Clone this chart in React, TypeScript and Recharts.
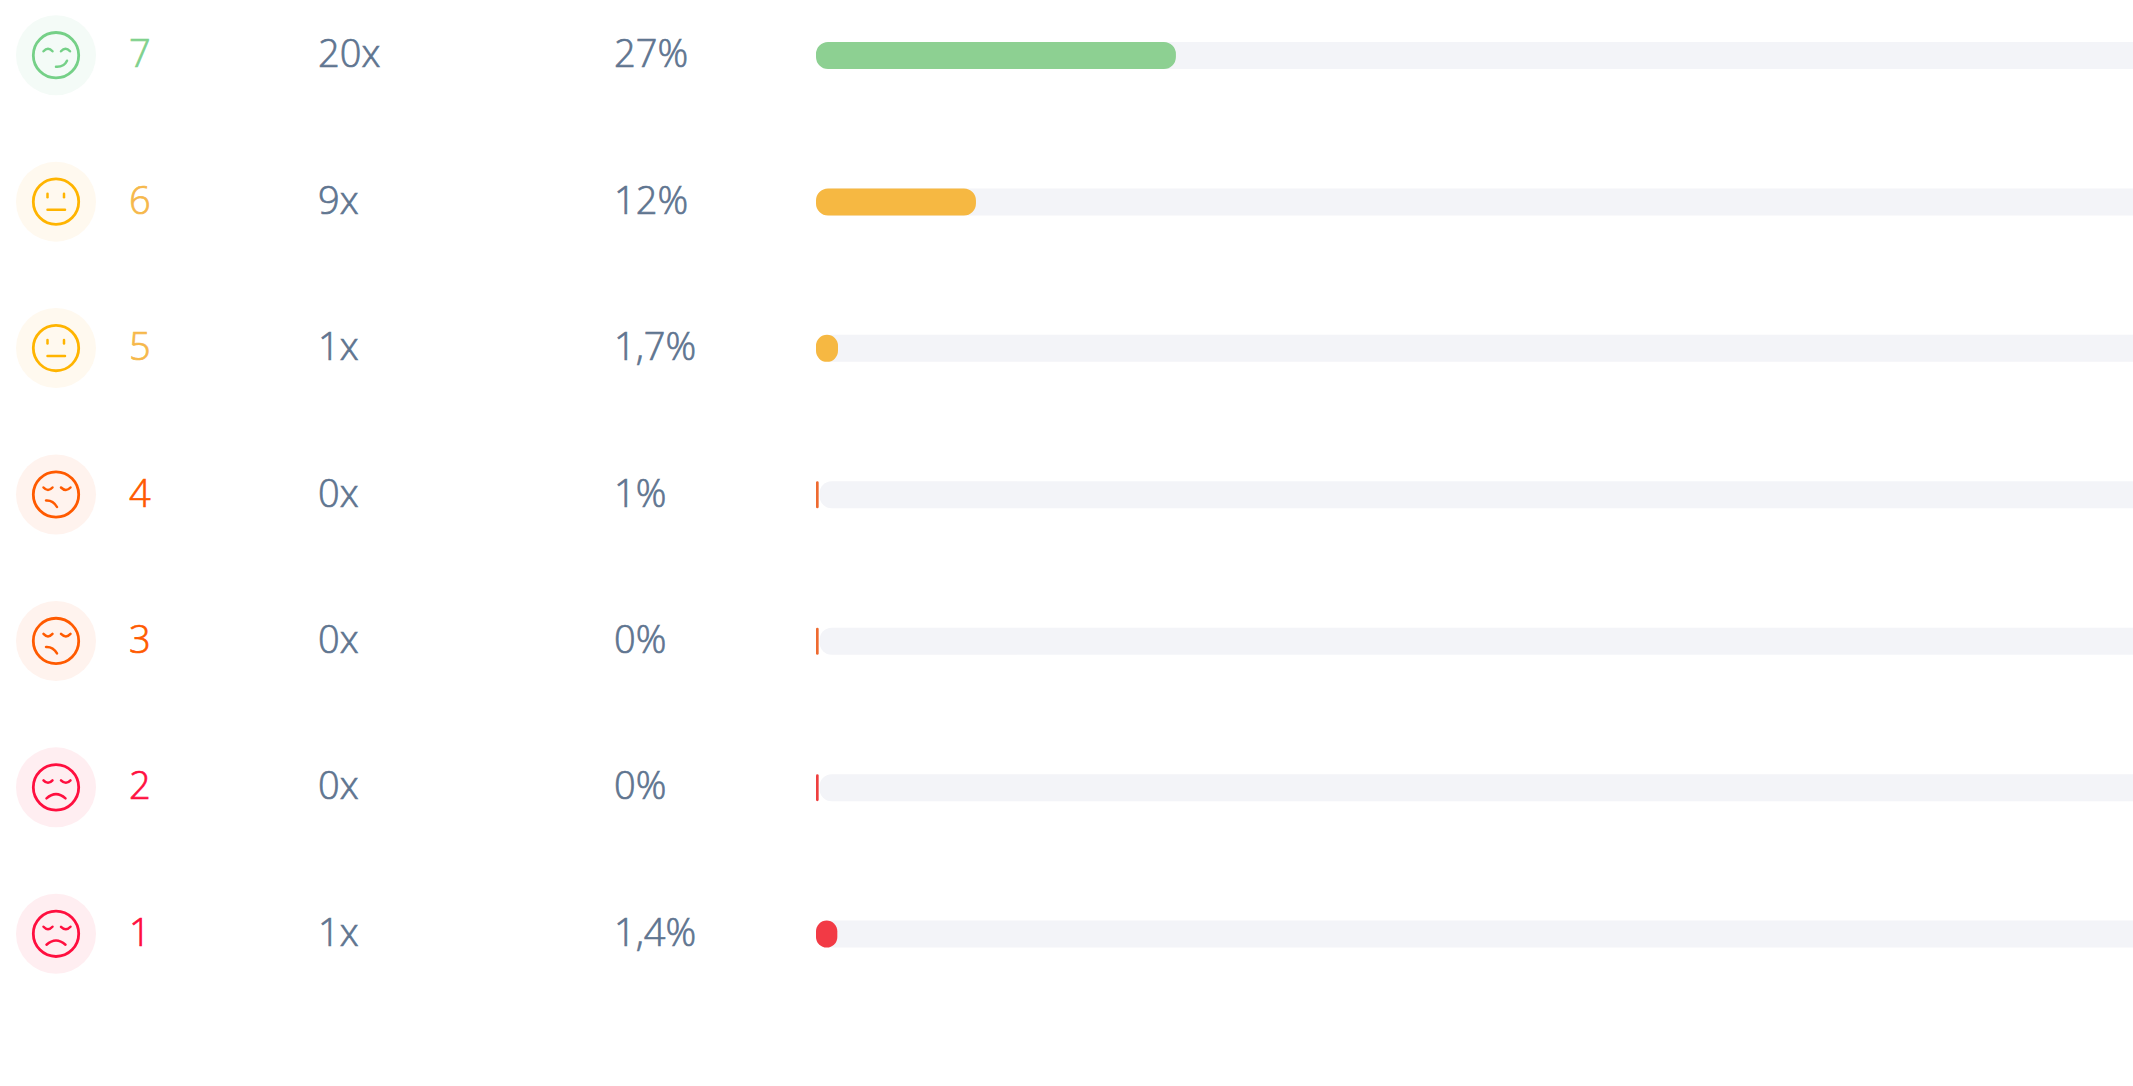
import React from "react";
import { BarChart, Bar, XAxis, YAxis, Cell } from "recharts";

const ratings = ["7", "6", "5", "4", "3", "2", "1"];
const counts = ["20x", "9x", "1x", "0x", "0x", "0x", "1x"];
const percents = ["27%", "12%", "1,7%", "1%", "0%", "0%", "1,4%"];
const barValues = [27, 12, 1.65, 0.2, 0.2, 0.2, 1.6];
const trackRange: [number, number] = [0.27, 100];
const barColors = ["#8dd092", "#f6b842", "#f6b842", "#ee6a30", "#ee6a30", "#ee3f3f", "#f23a45"];
const ratingColors = ["#80d18d", "#f6b84a", "#f6b84a", "#ff5a00", "#ff5a00", "#ff0f3f", "#ff0f3f"];
const faceColors = ["#75d087", "#ffb400", "#ffb400", "#ff5a00", "#ff5a00", "#ff0f3f", "#ff0f3f"];
const haloColors = ["#f4fbf7", "#fff9ef", "#fff9ef", "#fff3ee", "#fff3ee", "#ffeef1", "#ffeef1"];
const faceKinds = ["happy", "neutral", "neutral", "sad", "sad", "frown", "frown"];

const rows = ratings.map((rating, i) => ({
  rating,
  value: barValues[i],
  track: trackRange,
}));

const FONT = "'Open Sans', sans-serif";
const TEXT = "#5f7590";

function Face({ kind, color }: { kind: string; color: string }) {
  const s = { fill: "none", stroke: color, strokeWidth: 2.5, strokeLinecap: "round" as const };
  return (
    <g>
      <circle r={22.7} {...s} strokeWidth={2.8} />
      {kind === "happy" && (
        <>
          <path d="M-12.5 -4 Q-8 -9 -3.5 -4" {...s} />
          <path d="M5 -4 Q9.5 -9 14 -4" {...s} />
          <path d="M0 11.5 Q8 12 11 5.5" {...s} />
        </>
      )}
      {kind === "neutral" && (
        <>
          <path d="M-8.5 -8 V-4.5" {...s} />
          <path d="M8 -8 V-4.5" {...s} />
          <path d="M-8.5 8 H9" {...s} />
        </>
      )}
      {(kind === "sad" || kind === "frown") && (
        <>
          <path d="M-12.5 -7 Q-8 -2 -3.5 -7" {...s} />
          <path d="M5 -7 Q10 -2 14.5 -7" {...s} />
        </>
      )}
      {kind === "sad" && <path d="M-10 6 Q-3 5.5 1 12.5" {...s} />}
      {kind === "frown" && <path d="M-9.5 11 Q0 2.5 9.5 11" {...s} />}
    </g>
  );
}

function RowTick(props: any) {
  const { y, index } = props;
  const i = index as number;
  const textProps = { fontFamily: FONT, fontSize: 38, fontWeight: 300, strokeWidth: 0.7, y: y + 12 };
  return (
    <g>
      <circle cx={56} cy={y} r={40} fill={haloColors[i]} />
      <g transform={`translate(56 ${y})`}>
        <Face kind={faceKinds[i]} color={faceColors[i]} />
      </g>
      <text x={129} fill={ratingColors[i]} stroke={ratingColors[i]} {...textProps}>{ratings[i]}</text>
      <text x={318} fill={TEXT} stroke={TEXT} {...textProps}>{counts[i]}</text>
      <text x={614} fill={TEXT} stroke={TEXT} {...textProps}>{percents[i]}</text>
    </g>
  );
}

export default function App() {
  return (
    <div style={{ position: "absolute", left: 0, top: 0, width: 2133, height: 1086, overflow: "hidden", background: "#fff" }}>
      <div style={{ position: "absolute", left: 0, top: -18 }}>
        <BarChart
          width={2160}
          height={1025}
          data={rows}
          layout="vertical"
          margin={{ top: 0, right: 11, bottom: 0, left: 0 }}
          barSize={27}
          barGap={-27}
        >
          <XAxis type="number" domain={[0, 100]} hide />
          <YAxis
            type="category"
            dataKey="rating"
            width={816}
            axisLine={false}
            tickLine={false}
            interval={0}
            tick={<RowTick />}
          />
          <Bar dataKey="track" fill="#f3f4f8" radius={[12, 0, 0, 12]} isAnimationActive={false} />
          <Bar dataKey="value" radius={12} isAnimationActive={false}>
            {rows.map((r, i) => (
              <Cell key={r.rating} fill={barColors[i]} />
            ))}
          </Bar>
        </BarChart>
      </div>
    </div>
  );
}
